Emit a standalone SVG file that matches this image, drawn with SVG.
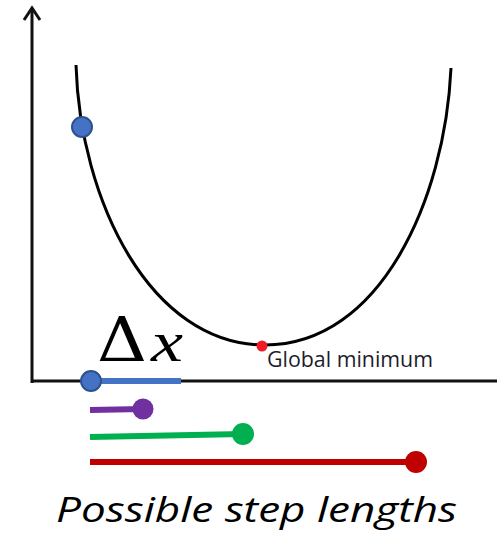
<svg xmlns="http://www.w3.org/2000/svg" width="497" height="535" viewBox="0 0 497 535">
  <style>
    .axis { stroke: #111; stroke-width: 3; fill: none; }
    .curve { stroke: #000; stroke-width: 3; fill: none; }
    .step { stroke-width: 6; fill: none; }
    .math { font-family: "DejaVu Serif", "Liberation Serif", serif; fill: #000; }
  </style>
  <rect width="497" height="535" fill="#fff"/>
  <g id="axes">
    <line class="axis" x1="32" y1="9" x2="32" y2="383"/>
    <polyline class="axis" points="24,20 32,8 40,20" stroke-linejoin="miter"/>
    <line class="axis" x1="31" y1="381" x2="497" y2="381"/>
  </g>
  <g id="loss-curve">
    <path class="curve" d="M76,65 C80,200 150,345 265,345 C380,345 445,200 451,68"/>
  </g>
  <g id="start-point">
    <circle cx="82" cy="127" r="10" fill="#4472C4" stroke="#2F528F" stroke-width="2"/>
  </g>
  <g id="global-minimum">
    <circle cx="262" cy="346" r="5.5" fill="#EE1C25"/>
    <text x="267" y="367" font-family="Open Sans, Liberation Sans, sans-serif" font-size="21" fill="#1c1c2c" textLength="166" lengthAdjust="spacingAndGlyphs">Global minimum</text>
  </g>
  <g id="delta-x-label">
    <text class="math" x="97" y="361" font-size="62" textLength="50" lengthAdjust="spacingAndGlyphs">Δ</text>
    <text x="151" y="361" font-family="Liberation Serif, serif" font-style="italic" font-size="58" fill="#000" textLength="32" lengthAdjust="spacingAndGlyphs">x</text>
  </g>
  <g id="steps">
    <g id="step-blue">
      <line class="step" x1="90" y1="381" x2="181" y2="381" stroke="#4472C4"/>
      <circle cx="91" cy="381" r="10" fill="#4472C4" stroke="#2F528F" stroke-width="2"/>
    </g>
    <g id="step-purple">
      <line class="step" x1="90" y1="410" x2="143" y2="409" stroke="#7030A0"/>
      <circle cx="143" cy="409" r="10.5" fill="#7030A0"/>
    </g>
    <g id="step-green">
      <line class="step" x1="90" y1="437" x2="243" y2="434" stroke="#00B050"/>
      <circle cx="243" cy="434" r="11" fill="#00B050"/>
    </g>
    <g id="step-red">
      <line class="step" x1="90" y1="462" x2="416" y2="462" stroke="#C00000"/>
      <circle cx="416" cy="462" r="11" fill="#C00000"/>
    </g>
  </g>
  <g id="caption">
    <text x="56" y="522" font-family="Open Sans, Liberation Sans, sans-serif" font-style="italic" font-size="35" fill="#000" textLength="401" lengthAdjust="spacingAndGlyphs">Possible step lengths</text>
  </g>
</svg>
